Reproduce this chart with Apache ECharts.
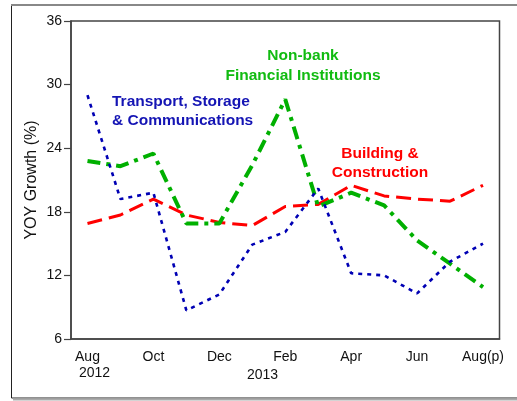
<!DOCTYPE html>
<html>
<head>
<meta charset="utf-8">
<script src="https://cdn.jsdelivr.net/npm/echarts@6/dist/echarts.min.js"></script>
<style>
html,body{margin:0;padding:0;background:#fff;}
#chart{width:517px;height:401px;}
</style>
</head>
<body>
<div id="chart"></div>
<script>
var categories = ['Aug','Sep','Oct','Nov','Dec','Jan','Feb','Mar','Apr','May','Jun','Jul','Aug(p)'];
var transport = [29.0, 19.2, 19.8, 8.7, 10.2, 14.9, 16.1, 20.2, 12.2, 12.0, 10.3, 13.3, 15.0];
var building  = [16.9, 17.7, 19.2, 17.7, 17.0, 16.7, 18.5, 18.7, 20.5, 19.5, 19.2, 19.0, 20.5];
var nonbank   = [22.8, 22.3, 23.5, 16.9, 16.9, 22.4, 28.6, 18.5, 19.8, 18.6, 15.3, 13.1, 10.9];
var yTicks = [6, 12, 18, 24, 30, 36];

var chart = echarts.init(document.getElementById('chart'), null, {renderer:'canvas'});
var font = 'Liberation Sans, Arial, Helvetica, sans-serif';
chart.setOption({
  animation: false,
  backgroundColor: '#fff',
  textStyle: {fontFamily: font},
  grid: {left: 71, right: 17.5, top: 21, bottom: 62, show: true, borderColor: '#444', borderWidth: 1.5, backgroundColor: 'transparent'},
  xAxis: {
    type: 'category',
    data: categories,
    boundaryGap: true,
    axisLine: {lineStyle: {color: '#444', width: 1.5}},
    axisTick: {alignWithLabel: true, interval: 0, length: 8, lineStyle: {color: '#444', width: 1.2}},
    axisLabel: {interval: 1, color: '#111', fontSize: 14, margin: 11, fontFamily: font},
    splitLine: {show: false}
  },
  yAxis: {
    type: 'value',
    min: yTicks[0], max: yTicks[yTicks.length-1], interval: 6,
    name: 'YOY Growth (%)',
    nameLocation: 'middle',
    nameGap: 31,
    nameMoveOverlap: false,
    nameTextStyle: {fontSize: 16, color: '#111', fontFamily: font},
    axisLine: {show: true, lineStyle: {color: '#444', width: 1.5}},
    axisTick: {show: true, length: 7, lineStyle: {color: '#444', width: 1.2}},
    axisLabel: {color: '#111', fontSize: 14, margin: 9, fontFamily: font},
    splitLine: {show: false}
  },
  series: [
    {
      name: 'Building & Construction', type: 'line', data: building, symbol: 'none',
      lineStyle: {color: '#ff0000', width: 3, type: [15, 7], cap: 'butt'}, z: 2
    },
    {
      name: 'Non-bank Financial Institutions', type: 'line', data: nonbank, symbol: 'none',
      lineStyle: {color: '#00b000', width: 4, type: [13, 6, 4, 6], cap: 'butt'}, z: 3
    },
    {
      name: 'Transport, Storage & Communications', type: 'line', data: transport, symbol: 'none',
      lineStyle: {color: '#0000b4', width: 2.6, type: [4, 5], cap: 'butt'}, z: 4
    }
  ],
  graphic: [
    {type: 'rect', shape: {x: 11.5, y: 5.5, width: 540, height: 392.5}, style: {fill: 'none', stroke: '#222', lineWidth: 1}, silent: true, z: -1},
    {type: 'line', shape: {x1: 11, y1: 5, x2: 517, y2: 5}, style: {stroke: '#888', lineWidth: 2}, silent: true},
    {type: 'line', shape: {x1: 13, y1: 399.5, x2: 517, y2: 399.5}, style: {stroke: '#aaa', lineWidth: 2}, silent: true},
    {type: 'text', left: 79, top: 366, style: {text: '2012', fontSize: 14, fill: '#111', fontFamily: font}},
    {type: 'text', left: 247, top: 368, style: {text: '2013', fontSize: 14, fill: '#111', fontFamily: font}},
    {type: 'text', left: 112, top: 92, style: {text: 'Transport, Storage\n& Communications', fontSize: 15.5, fontWeight: 'bold', fill: '#1414b4', lineHeight: 19, fontFamily: font}},
    {type: 'text', x: 303, y: 46, style: {text: 'Non-bank\nFinancial Institutions', fontSize: 15.5, fontWeight: 'bold', fill: '#11bb11', lineHeight: 20, align: 'center', fontFamily: font}},
    {type: 'text', x: 380, y: 144, style: {text: 'Building &\nConstruction', fontSize: 15.5, fontWeight: 'bold', fill: '#ff0000', lineHeight: 19, align: 'center', fontFamily: font}}
  ]
});
</script>
</body>
</html>
